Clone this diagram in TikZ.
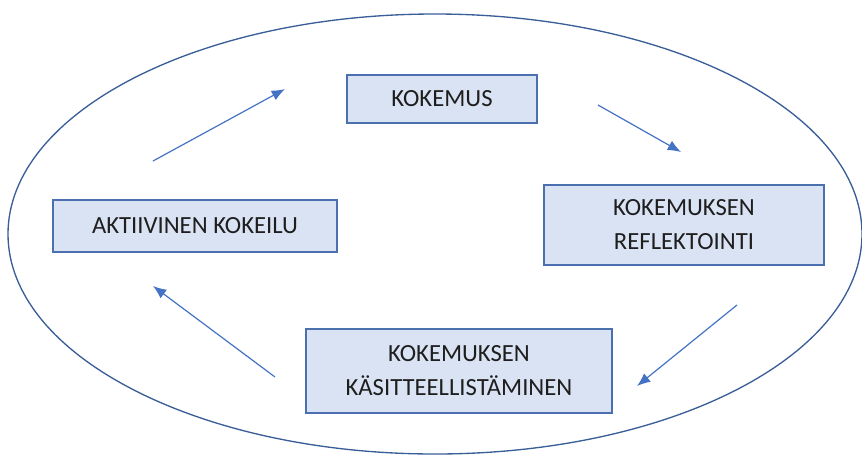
\documentclass[tikz,border=0pt]{standalone}
\usepackage{fontspec}
\setmainfont{Carlito}
\usepackage{xcolor}
\usetikzlibrary{arrows.meta}
\definecolor{boxfill}{HTML}{DAE3F3}
\definecolor{boxline}{HTML}{4A70B0}
\definecolor{arrowblue}{HTML}{4472C4}
\definecolor{ringblue}{HTML}{3A5E98}
\definecolor{textgray}{HTML}{1E1E1E}
\tikzset{
  vaihe/.style={draw=boxline, fill=boxfill, line width=1pt, inner sep=0pt, align=center,
    text=textgray, font=\fontsize{18.5}{25.5}\selectfont},
  nuoli/.style={draw=arrowblue, line width=0.9pt, -{Latex[length=10pt,width=8pt]}}
}

\begin{document}
\begin{tikzpicture}[x=0.75pt,y=-0.75pt]
\useasboundingbox (0,0) rectangle (862,455);
% ring round the cycle
\draw[ringblue, line width=1pt] (435,234) ellipse [x radius=320.25pt, y radius=165pt];
% the four stages
\node[vaihe, minimum width=142.5pt, minimum height=36pt] (kokemus) at (442,99) {KOKEMUS};
\node[vaihe, minimum width=210pt, minimum height=60pt] (reflektointi) at (684,225) {KOKEMUKSEN\\REFLEKTOINTI};
\node[vaihe, minimum width=229.5pt, minimum height=63pt] (kasitteellistaminen) at (459,371) {KOKEMUKSEN\\KÄSITTEELLISTÄMINEN};
\node[vaihe, minimum width=213pt, minimum height=39pt] (kokeilu) at (195,226) {AKTIIVINEN KOKEILU};
% arrow ends
\coordinate (n1a) at (153,161);
\coordinate (n1b) at (285,89);
\coordinate (n2a) at (598,105);
\coordinate (n2b) at (681,152);
\coordinate (n3a) at (737,305);
\coordinate (n3b) at (637,386);
\coordinate (n4a) at (275,377);
\coordinate (n4b) at (153,286);
\draw[nuoli] (n1a) -- (n1b);
\draw[nuoli] (n2a) -- (n2b);
\draw[nuoli] (n3a) -- (n3b);
\draw[nuoli] (n4a) -- (n4b);
\end{tikzpicture}
\end{document}
